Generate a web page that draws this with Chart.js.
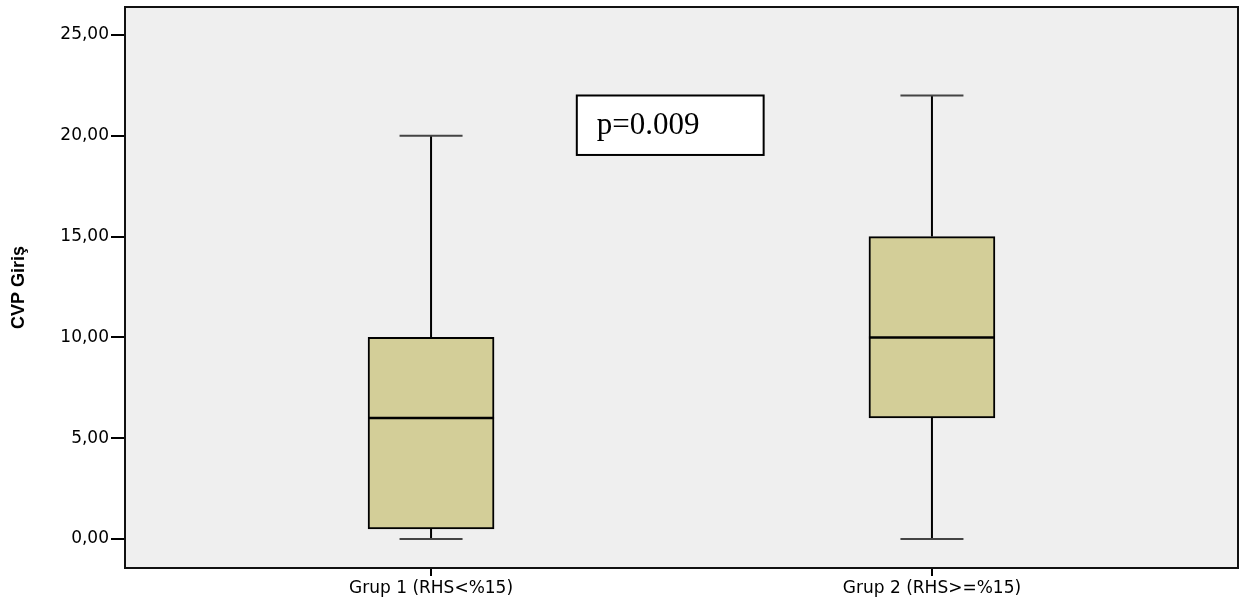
<!DOCTYPE html>
<html>
<head>
<meta charset="utf-8">
<script src="https://cdn.jsdelivr.net/npm/chart.js"></script>
<style>
  html, body { margin: 0; padding: 0; background: #fff; }
  #wrap { width: 1251px; height: 600px; }
</style>
</head>
<body>
<div id="wrap"><canvas id="box"></canvas></div>
<script>
// boxplot values per group
const groups = ['Grup 1 (RHS<%15)', 'Grup 2 (RHS>=%15)'];
const mins = [0, 0];
const q1s = [0.5, 6];
const medians = [6, 10];
const q3s = [10, 15];
const maxs = [20, 22];
const yTicks = [0, 5, 10, 15, 20, 25];
const pLabel = 'p=0.009';

// background + frame + whiskers/median + p-value box
const boxExtras = {
  id: 'boxExtras',
  beforeDatasetsDraw(chart) {
    const { ctx, chartArea: a } = chart;
    ctx.save();
    ctx.fillStyle = '#efefef';
    ctx.fillRect(a.left, a.top, a.right - a.left, a.bottom - a.top);
    ctx.restore();
  },
  afterDatasetsDraw(chart) {
    const { ctx, chartArea: a } = chart;
    const xs = chart.scales.x, ys = chart.scales.y;
    const meta = chart.getDatasetMeta(0);
    ctx.save();
    meta.data.forEach((bar, i) => {
      const cx = bar.x;
      const half = bar.width / 2;
      const yMin = ys.getPixelForValue(mins[i]);
      const yQ1 = ys.getPixelForValue(q1s[i]);
      const yMed = ys.getPixelForValue(medians[i]);
      const yQ3 = ys.getPixelForValue(q3s[i]);
      const yMax = ys.getPixelForValue(maxs[i]);
      ctx.strokeStyle = '#000';
      ctx.lineWidth = 2;
      ctx.beginPath();
      ctx.moveTo(cx, yQ3); ctx.lineTo(cx, yMax);
      ctx.moveTo(cx, yQ1); ctx.lineTo(cx, yMin);
      ctx.stroke();
      ctx.strokeStyle = '#444';
      ctx.beginPath();
      ctx.moveTo(cx - half / 2, yMax); ctx.lineTo(cx + half / 2, yMax);
      ctx.moveTo(cx - half / 2, yMin); ctx.lineTo(cx + half / 2, yMin);
      ctx.stroke();
      ctx.strokeStyle = '#000';
      ctx.lineWidth = 2.5;
      ctx.beginPath();
      ctx.moveTo(cx - half, yMed); ctx.lineTo(cx + half, yMed);
      ctx.stroke();
    });

    // p-value annotation
    const bx1 = xs.getPixelForValue(1.291), bx2 = xs.getPixelForValue(1.664);
    const by1 = ys.getPixelForValue(22), by2 = ys.getPixelForValue(19.05);
    ctx.fillStyle = '#fff';
    ctx.fillRect(bx1, by1, bx2 - bx1, by2 - by1);
    ctx.strokeStyle = '#000';
    ctx.lineWidth = 2;
    ctx.strokeRect(bx1, by1, bx2 - bx1, by2 - by1);
    ctx.fillStyle = '#000';
    ctx.font = '31px "Liberation Serif", "DejaVu Serif", serif';
    ctx.textAlign = 'left';
    ctx.textBaseline = 'middle';
    ctx.fillText(pLabel, bx1 + 20, (by1 + by2) / 2 + 1);

    // frame
    ctx.lineWidth = 2;
    ctx.strokeStyle = '#111';
    ctx.strokeRect(a.left, a.top, a.right - a.left, a.bottom - a.top);
    ctx.restore();
  }
};

new Chart(document.getElementById('box'), {
  type: 'bar',
  data: {
    datasets: [{
      data: groups.map((g, i) => ({ x: i + 1, y: [q1s[i], q3s[i]] })),
      backgroundColor: '#d3ce98',
      borderColor: '#000',
      borderWidth: 2,
      borderSkipped: false,
      barThickness: 126
    }]
  },
  options: {
    responsive: true,
    maintainAspectRatio: false,
    animation: false,
    layout: { padding: { top: 7, right: 13, left: 0, bottom: 0 } },
    plugins: { legend: { display: false }, tooltip: { enabled: false } },
    scales: {
      x: {
        type: 'linear',
        offset: false,
        min: 0.389,
        max: 2.611,
        afterBuildTicks: s => { s.ticks = groups.map((g, i) => ({ value: i + 1 })); },
        afterFit: s => { s.height = 32; },
        grid: { display: true, offset: false, drawOnChartArea: false, drawTicks: true, tickLength: 8, color: '#000', lineWidth: 2 },
        border: { display: true, color: '#111', width: 2 },
        ticks: {
          padding: 2,
          color: '#000',
          maxRotation: 0,
          autoSkip: false,
          font: { family: '"DejaVu Sans", sans-serif', size: 17 },
          callback: v => groups[Math.round(v) - 1] || ''
        }
      },
      y: {
        min: -1.44,
        max: 26.39,
        afterBuildTicks: s => { s.ticks = yTicks.map(v => ({ value: v })); },
        afterFit: s => { s.width = 125; s.paddingTop = 0; s.paddingBottom = 0; },
        grid: { display: true, drawOnChartArea: false, drawTicks: true, tickLength: 14, color: '#000', lineWidth: 2 },
        border: { display: true, color: '#111', width: 2 },
        ticks: {
          padding: 2,
          color: '#000',
          font: { family: '"DejaVu Sans", sans-serif', size: 17 },
          callback: v => v.toFixed(2).replace('.', ',')
        },
        title: {
          display: true,
          text: 'CVP Giriş',
          color: '#000',
          padding: { top: 8, bottom: 0 },
          font: { family: '"Liberation Sans Narrow", "Liberation Sans", Arial, sans-serif', size: 18, weight: 'bold' }
        }
      }
    }
  },
  plugins: [boxExtras]
});
</script>
</body>
</html>
